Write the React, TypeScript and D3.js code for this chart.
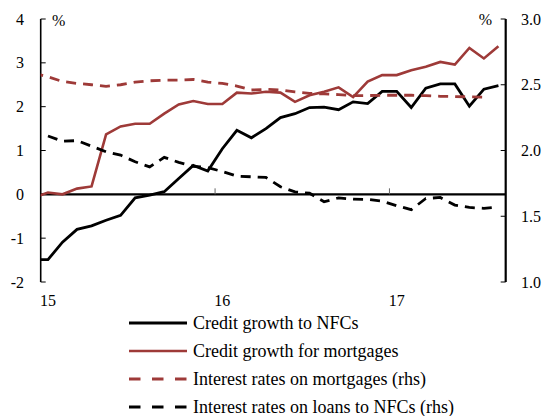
// Credit growth vs. lending rates, dual axis line chart
import * as d3 from 'd3'

// monthly categories, Dec 2014 (clipped at the left edge) to Aug 2017
const months = [
  '2014-12',
  '2015-01', '2015-02', '2015-03', '2015-04', '2015-05', '2015-06',
  '2015-07', '2015-08', '2015-09', '2015-10', '2015-11', '2015-12',
  '2016-01', '2016-02', '2016-03', '2016-04', '2016-05', '2016-06',
  '2016-07', '2016-08', '2016-09', '2016-10', '2016-11', '2016-12',
  '2017-01', '2017-02', '2017-03', '2017-04', '2017-05', '2017-06',
  '2017-07', '2017-08',
]

// left axis, %
const creditNFC = [
  -1.49, -1.49, -1.09, -0.8, -0.72, -0.59, -0.48, -0.08, -0.02, 0.06, 0.36, 0.66, 0.53,
  1.04, 1.46, 1.29, 1.5, 1.75, 1.84, 1.98, 1.99, 1.93, 2.11, 2.07, 2.35,
  2.35, 1.98, 2.42, 2.52, 2.52, 2.01, 2.4, 2.48,
]
const creditMortgage = [
  -0.08, 0.04, 0.0, 0.13, 0.18, 1.37, 1.55, 1.61, 1.61, 1.84, 2.05, 2.13, 2.06,
  2.06, 2.32, 2.3, 2.34, 2.32, 2.11, 2.26, 2.34, 2.44, 2.22, 2.57, 2.72,
  2.72, 2.83, 2.91, 3.02, 2.96, 3.34, 3.1, 3.38,
]
// right axis, %
const rateMortgage = [
  2.59, 2.56, 2.525, 2.51, 2.5, 2.488, 2.5, 2.52, 2.53, 2.535, 2.535, 2.54, 2.52,
  2.51, 2.49, 2.46, 2.465, 2.46, 2.445, 2.435, 2.43, 2.425, 2.418, 2.418, 2.42,
  2.42, 2.42, 2.417, 2.412, 2.41, 2.408, 2.405, null,
]
const rateNFC = [
  null, 2.11, 2.07, 2.075, 2.033, 1.99, 1.965, 1.914, 1.875, 1.948, 1.91, 1.88, 1.87,
  1.84, 1.805, 1.8, 1.795, 1.724, 1.685, 1.675, 1.61, 1.64, 1.63, 1.628, 1.615,
  1.58, 1.55, 1.635, 1.643, 1.585, 1.567, 1.56, 1.57,
]

const leftTicks = [-2, -1, 0, 1, 2, 3, 4]
const rightTicks = [1.0, 1.5, 2.0, 2.5, 3.0]
const yearLabels = ['15', '16', '17']
const legendLabels = [
  'Credit growth to NFCs',
  'Credit growth for mortgages',
  'Interest rates on mortgages (rhs)',
  'Interest rates on loans to NFCs (rhs)',
]

const RED = '#9e3a38'
const FONT = "'Liberation Serif', 'Times New Roman', serif"

export default function App() {
  const width = 545
  const height = 416
  const left = 40.7
  const right = 505.7
  const top = 19
  const bottom = 282

  // category index: Jan 2015 = 0
  const x = d3.scaleLinear().domain([-0.5, 31.5]).range([left, right])
  const yL = d3.scaleLinear().domain([-2, 4]).range([bottom, top])
  const yR = d3.scaleLinear().domain([1, 3]).range([bottom, top])

  const mk = (vals: (number | null)[], y: d3.ScaleLinear<number, number>) =>
    d3.line<number | null>()
      .defined(d => d != null)
      .x((d, i) => x(i - 1))
      .y(d => y(d as number))(vals) || ''

  const series = [
    { label: legendLabels[0], d: mk(creditNFC, yL), color: '#000', dash: null, w: 2.8 },
    { label: legendLabels[1], d: mk(creditMortgage, yL), color: RED, dash: null, w: 2.6 },
    { label: legendLabels[2], d: mk(rateMortgage, yR), color: RED, dash: '10,7', w: 2.8 },
    { label: legendLabels[3], d: mk(rateNFC, yR), color: '#000', dash: '10,7', w: 2.8 },
  ]

  const yearIdx = yearLabels.map(yy => months.indexOf(`20${yy}-01`) - 1)
  const boundaries = yearIdx.slice(1).map(v => v - 0.5)

  return (
    <svg width={width} height={height} fontFamily={FONT}
      style={{ position: 'absolute', left: 0, top: 0, background: '#fff' }}>
      <defs>
        <clipPath id="plot">
          <rect x={left} y={0} width={right - left} height={bottom + 5} />
        </clipPath>
      </defs>

      {/* left axis */}
      <line x1={left} x2={left} y1={top} y2={bottom} stroke="#000" strokeWidth={1.6} />
      {leftTicks.map(t => (
        <g key={t}>
          <line x1={left} x2={left + 5} y1={yL(t)} y2={yL(t)} stroke="#000" strokeWidth={1} />
          <text x={24} y={yL(t)} dy="0.35em" textAnchor="end" fontSize={16}>{t}</text>
        </g>
      ))}
      <text x={52} y={26} fontSize={16}>%</text>

      {/* right axis */}
      <line x1={right} x2={right} y1={top} y2={bottom} stroke="#000" strokeWidth={2.2} />
      {rightTicks.map(t => (
        <g key={t}>
          <line x1={right - 5} x2={right} y1={yR(t)} y2={yR(t)} stroke="#000" strokeWidth={1} />
          <text x={521} y={yR(t)} dy="0.35em" fontSize={16}>{t.toFixed(1)}</text>
        </g>
      ))}
      <text x={492} y={25} textAnchor="end" fontSize={16}>%</text>

      {/* zero line with year boundary ticks */}
      <line x1={left} x2={right} y1={yL(0)} y2={yL(0)} stroke="#000" strokeWidth={2.4} />
      {boundaries.map(b => (
        <line key={b} x1={x(b)} x2={x(b)} y1={yL(0)} y2={yL(0) - 6} stroke="#666" strokeWidth={1} />
      ))}
      {yearLabels.map((lab, i) => (
        <text key={lab} x={x(yearIdx[i])} y={306} textAnchor="middle" fontSize={16}>{lab}</text>
      ))}

      <g clipPath="url(#plot)">
        {series.map(s => (
          <path key={s.label} d={s.d} fill="none" stroke={s.color} strokeWidth={s.w}
            strokeDasharray={s.dash || undefined} strokeLinejoin="miter" />
        ))}
      </g>

      {/* legend */}
      {series.map((s, i) => {
        const yy = 323 + i * 28
        return (
          <g key={s.label}>
            <line x1={129} x2={187} y1={yy} y2={yy} stroke={s.color} strokeWidth={s.w}
              strokeDasharray={s.dash ? '11.5,11.5' : undefined} />
            <text x={193} y={yy} dy="0.35em" fontSize={18}>{s.label}</text>
          </g>
        )
      })}
    </svg>
  )
}
